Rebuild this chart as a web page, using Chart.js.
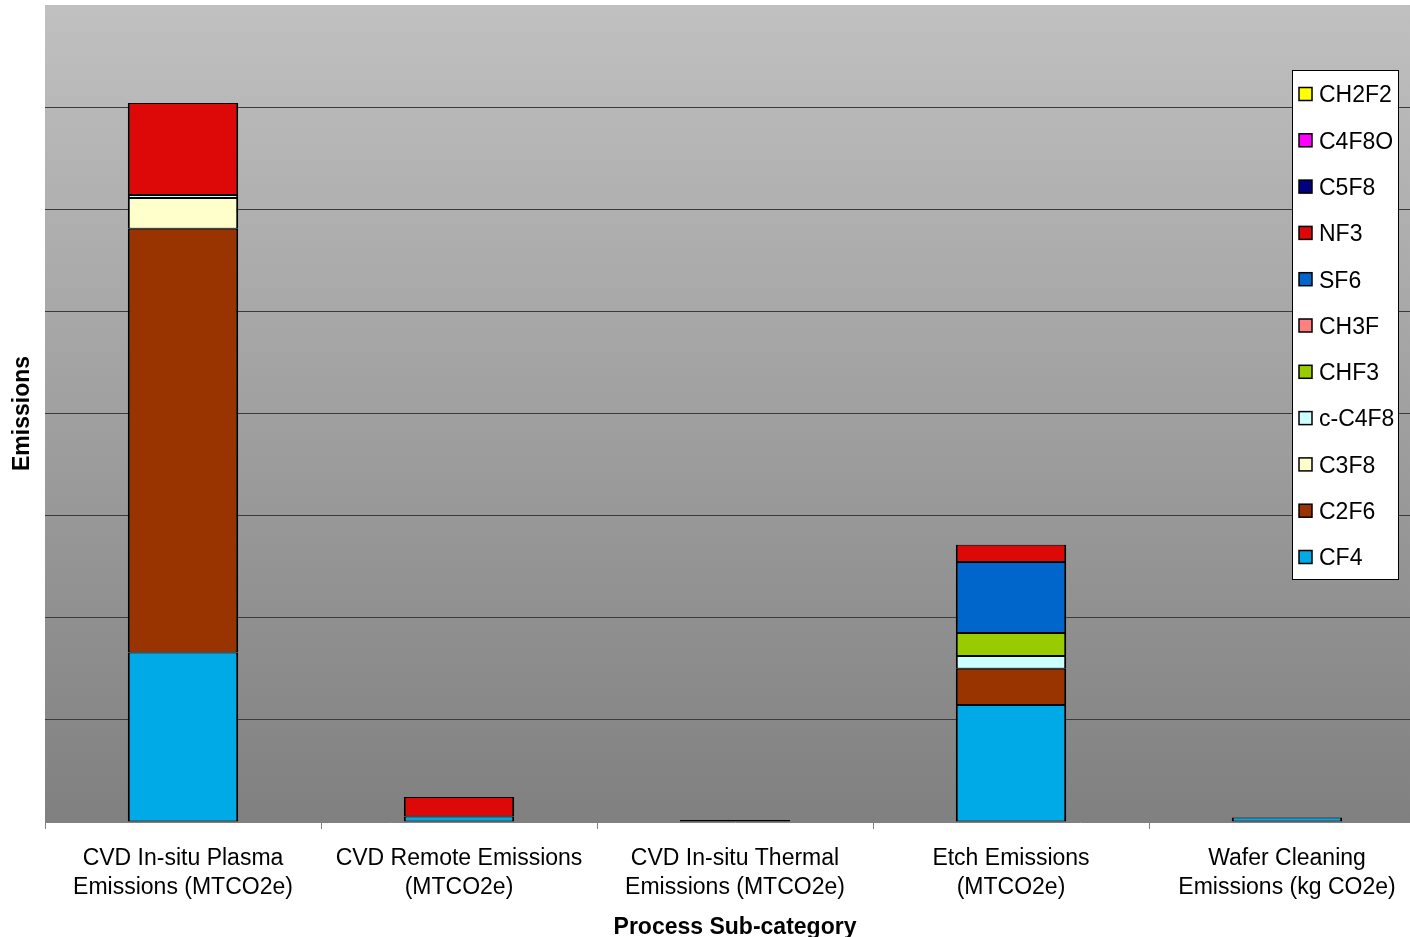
<!DOCTYPE html>
<html>
<head>
<meta charset="utf-8">
<script src="https://cdn.jsdelivr.net/npm/chart.js@4.4.1/dist/chart.umd.min.js"></script>
<style>
  html, body { margin: 0; padding: 0; background: #ffffff; overflow: hidden; }
  #wrap { width: 1410px; height: 937px; overflow: hidden; }
  #chart { display: block; }
</style>
</head>
<body>
<div id="wrap"><canvas id="chart" width="1425" height="937"></canvas></div>
<script>
// Process sub-categories (two-line axis labels)
const categories = [
  ['CVD In-situ Plasma', 'Emissions (MTCO2e)'],
  ['CVD Remote Emissions', '(MTCO2e)'],
  ['CVD In-situ Thermal', 'Emissions (MTCO2e)'],
  ['Etch Emissions', '(MTCO2e)'],
  ['Wafer Cleaning', 'Emissions (kg CO2e)']
];

// Emissions per gas, one value per sub-category (stack order bottom to top)
const cf4    = [1.66, 0.055, 0.02, 1.145, 0.045];
const c2f6   = [4.15, null, null, 0.355, null];
const c3f8   = [0.30, null, null, null, null];
const cC4f8  = [0.03, null, null, 0.125, null];
const chf3   = [null, null, null, 0.225, null];
const ch3f   = [null, null, null, null, null];
const sf6    = [null, null, null, 0.695, null];
const nf3    = [0.90, 0.19, null, 0.17, null];
const c5f8   = [null, null, null, null, null];
const c4f8o  = [null, null, null, null, null];
const ch2f2  = [null, null, null, null, null];

const seriesNames = ['CF4', 'C2F6', 'C3F8', 'c-C4F8', 'CHF3', 'CH3F', 'SF6', 'NF3', 'C5F8', 'C4F8O', 'CH2F2'];
const seriesValues = [cf4, c2f6, c3f8, cC4f8, chf3, ch3f, sf6, nf3, c5f8, c4f8o, ch2f2];
const seriesColors = ['#00aae6', '#993300', '#ffffcc', '#ccffff', '#99cc00', '#ff8080', '#0066cc', '#dd0808', '#000080', '#ff00ff', '#ffff00'];

const FONT = "'Liberation Sans', Arial, sans-serif";

const datasets = seriesNames.map((name, i) => ({
  label: name,
  data: seriesValues[i],
  backgroundColor: seriesColors[i],
  borderColor: '#000000',
  borderWidth: { top: 1, bottom: 1, left: 2, right: 2 },
  borderSkipped: false,
  barPercentage: 0.80,
  categoryPercentage: 0.5
}));

// Grey gradient behind the plot area
const plotBackground = {
  id: 'plotBackground',
  beforeDraw(chart) {
    const { ctx, chartArea: a } = chart;
    const g = ctx.createLinearGradient(0, a.top, 0, a.bottom);
    g.addColorStop(0, '#c0c0c0');
    g.addColorStop(1, '#808080');
    ctx.save();
    ctx.fillStyle = g;
    ctx.fillRect(a.left, a.top, a.right - a.left, a.bottom - a.top);
    ctx.restore();
  }
};

// Boxed legend drawn over the plot, last series at the top
const boxedLegend = {
  id: 'boxedLegend',
  afterDraw(chart) {
    const { ctx, chartArea: a } = chart;
    const sets = chart.data.datasets.slice().reverse();
    const boxX = a.right - 133, boxY = a.top + 65, boxW = 107, boxH = 510;
    const step = 46.3;
    ctx.save();
    ctx.fillStyle = '#ffffff';
    ctx.fillRect(boxX, boxY, boxW, boxH);
    ctx.strokeStyle = '#000000';
    ctx.lineWidth = 1;
    ctx.strokeRect(boxX + 0.5, boxY + 0.5, boxW - 1, boxH - 1);
    ctx.font = '23px ' + FONT;
    ctx.textBaseline = 'middle';
    ctx.textAlign = 'left';
    sets.forEach((ds, i) => {
      const cy = boxY + 24 + i * step;
      ctx.fillStyle = ds.backgroundColor;
      ctx.fillRect(boxX + 7, cy - 6.5, 13, 13);
      ctx.strokeStyle = '#000000';
      ctx.lineWidth = 1.5;
      ctx.strokeRect(boxX + 7, cy - 6.5, 13, 13);
      ctx.fillStyle = '#000000';
      ctx.fillText(ds.label, boxX + 27, cy + 2);
    });
    ctx.restore();
  }
};

new Chart(document.getElementById('chart'), {
  type: 'bar',
  data: { labels: categories, datasets },
  plugins: [plotBackground, boxedLegend],
  options: {
    responsive: false,
    animation: false,
    layout: { padding: { top: 5, right: 0, left: 0, bottom: 0 } },
    plugins: {
      legend: { display: false },
      tooltip: { enabled: false }
    },
    scales: {
      x: {
        stacked: true,
        afterFit(scale) { scale.height = 115; },
        grid: {
          offset: true,
          drawOnChartArea: false,
          drawTicks: true,
          tickLength: 7,
          color: '#808080',
          lineWidth: 1
        },
        border: { display: true, color: '#808080', width: 1 },
        ticks: {
          color: '#000000',
          font: { family: FONT, size: 23, lineHeight: 1.26 },
          padding: 15,
          maxRotation: 0,
          autoSkip: false
        },
        title: {
          display: true,
          text: 'Process Sub-category',
          color: '#000000',
          font: { family: FONT, size: 23, weight: 'bold', lineHeight: 0.85 },
          padding: { top: 0, bottom: 0 }
        }
      },
      y: {
        stacked: true,
        min: 0,
        max: 8,
        afterFit(scale) { scale.width = 45; },
        ticks: { display: false, stepSize: 1 },
        grid: {
          drawTicks: false,
          tickLength: 0,
          color: (c) => (c.tick && (c.tick.value === 8 || c.tick.value === 0)) ? 'rgba(0,0,0,0)' : '#3a3a3a',
          lineWidth: 1
        },
        border: { display: false },
        title: {
          display: true,
          text: 'Emissions',
          color: '#000000',
          font: { family: FONT, size: 23, weight: 'bold', lineHeight: 1.2 },
          padding: { top: 9, bottom: 0 }
        }
      }
    }
  }
});
</script>
</body>
</html>
